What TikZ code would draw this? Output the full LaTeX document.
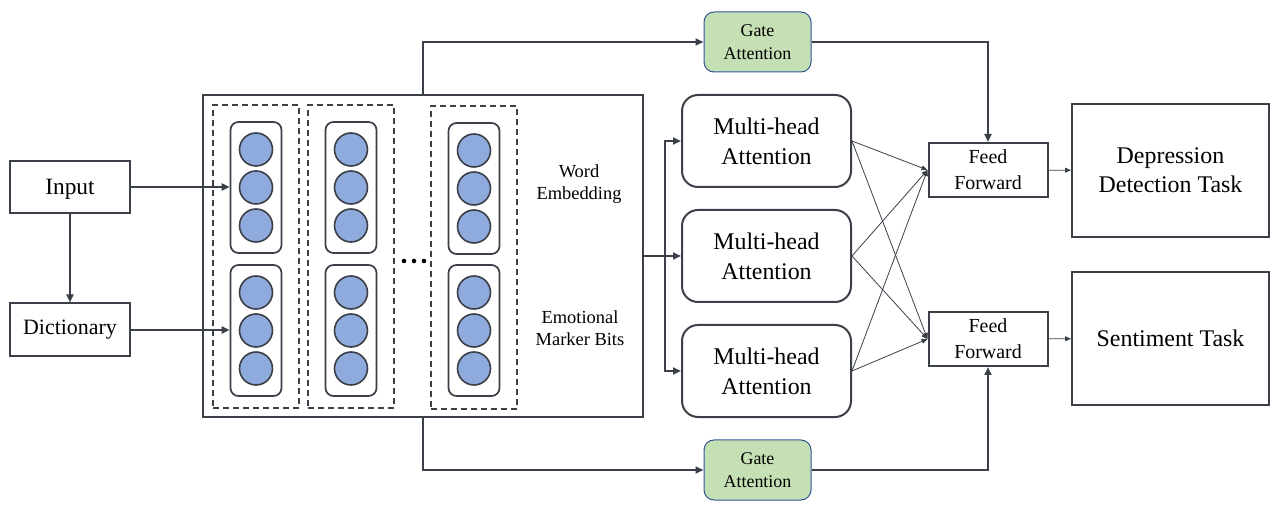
\documentclass[tikz,border=0pt]{standalone}
\usepackage{fontspec}
\setmainfont{Liberation Serif}
\usetikzlibrary{arrows.meta, positioning, calc}

\definecolor{linegray}{RGB}{59,63,71}
\definecolor{dotblue}{RGB}{143,170,220}
\definecolor{gategreen}{RGB}{197,224,180}
\definecolor{gateedge}{RGB}{47,85,151}

\begin{document}
\begin{tikzpicture}[x=1bp, y=-1bp,
    plainbox/.style={draw=linegray, line width=2bp, inner sep=0pt, align=center},
    mhbox/.style={plainbox, rounded corners=16bp, minimum width=169bp, minimum height=92bp, font=\fontsize{24}{30}\selectfont},
    taskbox/.style={plainbox, minimum width=197bp, minimum height=133bp, font=\fontsize{24}{29}\selectfont},
    ffbox/.style={plainbox, minimum width=119bp, minimum height=54bp, font=\fontsize{20}{26}\selectfont},
    gatebox/.style={draw=gateedge, line width=1bp, fill=gategreen, rounded corners=10bp, minimum width=107bp, minimum height=60bp, inner sep=0pt, align=center, font=\fontsize{18}{23}\selectfont},
    vecbox/.style={draw=linegray, line width=1.7bp, rounded corners=8bp, minimum width=51bp, minimum height=131bp, inner sep=0pt},
    colbox/.style={draw=linegray, line width=1.6bp, dash pattern=on 6bp off 4bp, minimum width=86bp, minimum height=303bp, inner sep=0pt},
    dot/.style={circle, draw=linegray, line width=1.6bp, fill=dotblue, minimum size=33bp, inner sep=0pt},
    arr/.style={draw=linegray, line width=2bp, -{Triangle[length=8bp, width=7bp]}},
    thinarr/.style={draw=linegray, line width=0.8bp, -{Triangle[length=6bp, width=5bp]}}
]
    \useasboundingbox (0,0) rectangle (1279,510);

    % Inputs
    \node[plainbox, minimum width=119bp, minimum height=52bp, text depth=0pt, font=\fontsize{23.5}{28}\selectfont] (input) at (70,187) {Input};
    \node[plainbox, minimum width=119bp, minimum height=53bp, font=\fontsize{22}{26}\selectfont] (dict) at (70,330) {Dictionary};

    % Embedding block
    \node[plainbox, minimum width=440bp, minimum height=322bp] (emb) at (423,256) {};
    \foreach \c/\x/\dy in {1/256/0, 2/351/0, 3/474/1} {
        \node[colbox] (col\c) at (\x,256.5+\dy) {};
        \node[vecbox] (vec\c a) at (\x,187.5+\dy) {};
        \node[vecbox] (vec\c b) at (\x,330.5) {};
        \foreach \k/\dd in {1/-38, 2/0, 3/38} {
            \node[dot] (dot\c a\k) at (\x,187.5+\dy+\dd) {};
            \node[dot] (dot\c b\k) at (\x,330.5+\dd) {};
        }
    }
    \foreach \i in {0,1,2}
        \fill[black] (404+10*\i,261) circle (2.3bp);
    \node[align=center, font=\fontsize{18.5}{22}\selectfont] (wordlbl) at (579,184) {Word\\Embedding};
    \node[align=center, font=\fontsize{18.5}{22}\selectfont] (marklbl) at (580,328) {Emotional\\Marker Bits};

    % Attention heads
    \foreach \m/\y in {1/141, 2/256, 3/371}
        \node[mhbox] (mh\m) at (766.5,\y) {Multi-head\\Attention};
    \node[gatebox] (gate1) at (757.5,42) {Gate\\Attention};
    \node[gatebox] (gate2) at (757.5,470) {Gate\\Attention};

    % Outputs
    \node[ffbox] (ff1) at (988,170) {Feed\\Forward};
    \node[ffbox] (ff2) at (988,339) {Feed\\Forward};
    \node[taskbox] (task1) at (1170.5,170.5) {Depression\\Detection Task};
    \node[taskbox] (task2) at (1170.5,338.5) {Sentiment Task};

    % Connections
    \draw[arr] (input) -- (dict);
    \draw[arr] (input.east) -- (input.east -| vec1a.west);
    \draw[arr] (dict.east) -- (dict.east -| vec1b.west);
    \draw[arr] (emb.north) |- (gate1);
    \draw[arr] (gate1) -| (ff1);
    \draw[arr] (emb.south) |- (gate2);
    \draw[arr] (gate2) -| (ff2);
    \coordinate (split) at ($(emb.east)+(21,0)$);
    \draw[arr] (emb.east) -- (mh2);
    \draw[arr] (split) |- (mh1);
    \draw[arr] (split) |- (mh3);
    \foreach \m in {1,2,3}
        \foreach \f in {1,2}
            \draw[thinarr] (mh\m.east) -- (ff\f.west);
    \draw[thinarr] (ff1) -- (task1);
    \draw[thinarr] (ff2) -- (task2);
\end{tikzpicture}
\end{document}
